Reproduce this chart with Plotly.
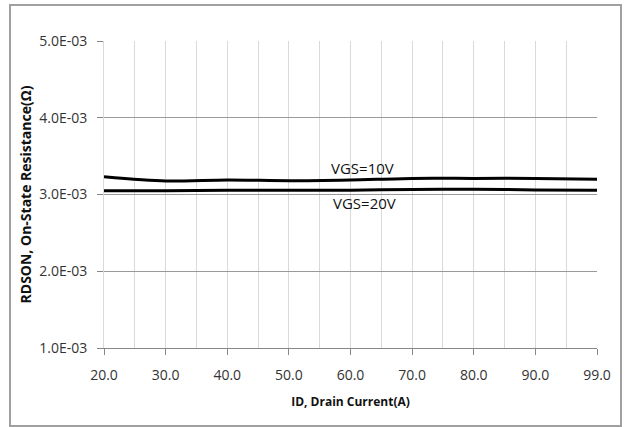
import plotly.graph_objects as go

# Drain current categories (evenly spaced on the axis)
id_labels = ["20.0", "30.0", "40.0", "50.0", "60.0", "70.0", "80.0", "90.0", "99.0"]

# On-state resistance (ohm) for each gate voltage
rdson_vgs10 = [3.23e-3, 3.175e-3, 3.19e-3, 3.18e-3, 3.19e-3, 3.21e-3, 3.21e-3, 3.21e-3, 3.20e-3]
rdson_vgs20 = [3.05e-3, 3.05e-3, 3.055e-3, 3.055e-3, 3.057e-3, 3.065e-3, 3.068e-3, 3.06e-3, 3.055e-3]

# Y axis ticks
y_ticks = [1e-3, 2e-3, 3e-3, 4e-3, 5e-3]
y_tick_labels = ["1.0E-03", "2.0E-03", "3.0E-03", "4.0E-03", "5.0E-03"]

x_pos = list(range(len(id_labels)))
FONT = "Open Sans"

fig = go.Figure()
for vals in (rdson_vgs10, rdson_vgs20):
    fig.add_trace(go.Scatter(
        x=x_pos, y=vals, mode="lines",
        line=dict(color="black", width=3, shape="spline", smoothing=0.8),
        showlegend=False, hoverinfo="skip",
    ))

fig.add_annotation(x=4.2, y=3.345e-3, text="VGS=10V", showarrow=False,
                   xref="x", yref="y", font=dict(family=FONT, size=15, color="#111"))
fig.add_annotation(x=4.23, y=2.885e-3, text="VGS=20V", showarrow=False,
                   xref="x", yref="y", font=dict(family=FONT, size=15, color="#111"))

# Outer chart frame
fig.add_shape(type="rect", xref="paper", yref="paper",
              x0=-0.1907, x1=1.0487, y0=-0.2541, y1=1.1173,
              line=dict(color="#a0a0a0", width=2), fillcolor="rgba(0,0,0,0)",
              layer="below")

fig.update_layout(
    width=627, height=427,
    margin=dict(l=104, r=30, t=41, b=79),
    paper_bgcolor="white", plot_bgcolor="white",
    font=dict(family=FONT, color="#333"),
    xaxis=dict(
        range=[0, len(id_labels) - 1],
        tickmode="array", tickvals=x_pos, ticktext=id_labels,
        tickfont=dict(size=14, color="#333"),
        ticks="outside", ticklen=6, tickcolor="#868686",
        ticklabelstandoff=8,
        showgrid=True, gridcolor="#d9d9d9", gridwidth=1,
        minor=dict(tickmode="array",
                   tickvals=[i + 0.5 for i in x_pos[:-1]],
                   showgrid=True, gridcolor="#d9d9d9", gridwidth=1, ticks=""),
        showline=True, linecolor="#868686", linewidth=1,
        zeroline=False, fixedrange=True,
        title=dict(text="<b>ID, Drain Current(A)</b>",
                   font=dict(size=12, color="#111"), standoff=14),
    ),
    yaxis=dict(
        range=[1e-3, 5e-3],
        tickmode="array", tickvals=y_ticks, ticktext=y_tick_labels,
        tickfont=dict(size=14, color="#333"),
        ticks="outside", ticklen=6, tickcolor="#868686",
        ticklabelstandoff=7,
        showgrid=True, gridcolor="#9a9a9a", gridwidth=1,
        showline=True, linecolor="#d9d9d9", linewidth=1,
        zeroline=False, fixedrange=True,
        title=dict(text="<b>RDSON, On-State Resistance(Ω)</b>",
                   font=dict(size=14, color="#111"), standoff=4),
    ),
)

fig.write_html("out.html")
